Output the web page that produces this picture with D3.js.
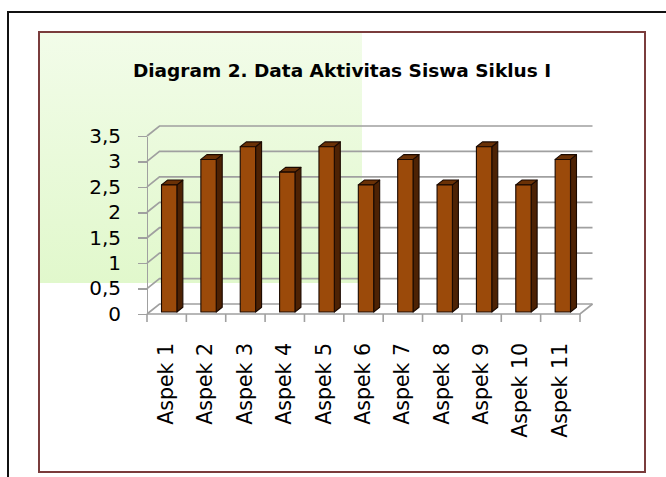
<!DOCTYPE html>
<html>
    <head>
        <title></title>
        <style>
            body { margin: 0; background: #fff; }
            .axis text { font-family: "DejaVu Sans", sans-serif; fill: #000; }
            .y.axis text { font-size: 20px; }
            .x.axis text { font-size: 20.5px; }
            .axis path, .axis line { stroke: #a0a0a0; stroke-width: 1.6; shape-rendering: crispEdges; }
        </style>
    </head>
    <body>
        <script src="https://cdnjs.cloudflare.com/ajax/libs/d3/7.8.5/d3.min.js" charset="utf-8"></script>
        <script>

        var title = "Diagram 2. Data Aktivitas Siswa Siklus I";
        var categories = ["Aspek 1", "Aspek 2", "Aspek 3", "Aspek 4", "Aspek 5", "Aspek 6",
                          "Aspek 7", "Aspek 8", "Aspek 9", "Aspek 10", "Aspek 11"];
        var values = [2.5, 3, 3.25, 2.75, 3.25, 2.5, 3, 2.5, 3.25, 2.5, 3];
        var yTicks = [0, 0.5, 1, 1.5, 2, 2.5, 3, 3.5];
        var yTickLabels = ["0", "0,5", "1", "1,5", "2", "2,5", "3", "3,5"];

        var w = 666;
        var h = 477;

        // front plane of the 3d plot and depth offset
        var x0 = 147, x1 = 580;
        var y0 = 314, yTop = 136;
        var dx = 12.5, dy = -10;
        var t0 = 0.2, t1 = 0.68;   // bar depth span (fraction of depth)

        var svg = d3.select("body")
                    .append("svg")
                    .attr("width", w)
                    .attr("height", h);

        var defs = svg.append("defs");
        var grad = defs.append("linearGradient")
                       .attr("id", "greenfill")
                       .attr("x1", 0).attr("y1", 0)
                       .attr("x2", 0).attr("y2", 1);
        grad.append("stop").attr("offset", "0%").attr("stop-color", "#f2fce9");
        grad.append("stop").attr("offset", "100%").attr("stop-color", "#e1f8cc");

        // outer frame (runs off the page)
        svg.append("rect")
            .attr("x", 8).attr("y", 12)
            .attr("width", 720).attr("height", 520)
            .attr("fill", "none")
            .attr("stroke", "#111")
            .attr("stroke-width", 2);

        // green patch
        svg.append("rect")
            .attr("x", 39).attr("y", 32)
            .attr("width", 323).attr("height", 251)
            .attr("fill", "url(#greenfill)");

        // chart box
        svg.append("rect")
            .attr("x", 39).attr("y", 32)
            .attr("width", 606).attr("height", 440)
            .attr("fill", "none")
            .attr("stroke", "#7a3c3c")
            .attr("stroke-width", 2);

        svg.append("text")
            .attr("x", 342)
            .attr("y", 77)
            .attr("text-anchor", "middle")
            .style("font-family", "'DejaVu Sans', sans-serif")
            .style("font-weight", "bold")
            .style("font-size", "18.5px")
            .text(title);

        var xScale = d3.scaleBand()
                       .domain(categories)
                       .range([x0, x1]);

        var yScale = d3.scaleLinear()
                       .domain([0, 3.5])
                       .range([y0, yTop]);

        //Gridlines on the side and back wall
        svg.append("g")
            .selectAll("path")
            .data(yTicks)
            .enter()
            .append("path")
            .attr("d", function(d) {
                var yy = yScale(d);
                return "M" + x0 + "," + yy + "L" + (x0 + dx) + "," + (yy + dy) + "L" + (x1 + dx) + "," + (yy + dy);
            })
            .attr("fill", "none")
            .attr("stroke", "#a0a0a0")
            .attr("stroke-width", 1.7);

        // floor
        svg.append("path")
            .attr("d", "M" + x0 + "," + y0 + "L" + x1 + "," + y0 + "L" + (x1 + dx) + "," + (y0 + dy))
            .attr("fill", "none")
            .attr("stroke", "#a0a0a0")
            .attr("stroke-width", 1.7);

        // y axis
        svg.append("g")
            .attr("class", "y axis")
            .attr("transform", "translate(" + x0 + ",0)")
            .call(d3.axisLeft(yScale)
                    .tickValues(yTicks)
                    .tickFormat(function(d, i) { return yTickLabels[i]; })
                    .tickSize(9)
                    .tickSizeOuter(0)
                    .tickPadding(17));

        // x axis labels
        var xAxisG = svg.append("g")
            .attr("class", "x axis")
            .attr("transform", "translate(0," + y0 + ")")
            .call(d3.axisBottom(xScale).tickSize(0).tickSizeOuter(0));
        xAxisG.select(".domain").remove();
        xAxisG.selectAll("text")
            .attr("text-anchor", "end")
            .attr("transform", "translate(-1,29) rotate(-90)")
            .attr("x", 0)
            .attr("y", 0)
            .attr("dy", "0.36em");

        // x ticks on category boundaries
        var bounds = categories.map(function(d) { return xScale(d); }).concat([xScale.range()[1]]);
        svg.append("g")
            .selectAll("line")
            .data(bounds)
            .enter()
            .append("line")
            .attr("x1", function(d) { return d; })
            .attr("x2", function(d) { return d; })
            .attr("y1", y0)
            .attr("y2", y0 + 8)
            .attr("stroke", "#a0a0a0")
            .attr("stroke-width", 1.6);

        //Create bars
        var bw = xScale.bandwidth() * 0.39;
        var ddx = (t1 - t0) * dx, ddy = (t1 - t0) * dy;

        var bars = svg.append("g")
            .selectAll("g")
            .data(values)
            .enter()
            .append("g")
            .attr("stroke", "#1a0900")
            .attr("stroke-width", 1.1)
            .attr("stroke-linejoin", "round");

        function xf(d, i) { return xScale(categories[i]) + (xScale.bandwidth() - bw) / 2 + t0 * dx; }
        function yt(d) { return yScale(d) + t0 * dy; }
        var yb = yScale(0) + t0 * dy;

        // side face
        bars.append("path")
            .attr("fill", "#4d2204")
            .attr("d", function(d, i) {
                var a = xf(d, i) + bw, b = yt(d);
                return "M" + a + "," + b + "L" + (a + ddx) + "," + (b + ddy) +
                       "L" + (a + ddx) + "," + (yb + ddy) + "L" + a + "," + yb + "Z";
            });

        // top face
        bars.append("path")
            .attr("fill", "#6a3106")
            .attr("d", function(d, i) {
                var a = xf(d, i), b = yt(d);
                return "M" + a + "," + b + "L" + (a + ddx) + "," + (b + ddy) +
                       "L" + (a + bw + ddx) + "," + (b + ddy) + "L" + (a + bw) + "," + b + "Z";
            });

        // front face
        bars.append("rect")
            .attr("fill", "#9b4a0a")
            .attr("x", xf)
            .attr("y", yt)
            .attr("width", bw)
            .attr("height", function(d) { return yb - yt(d); });

        </script>
    </body>
</html>
